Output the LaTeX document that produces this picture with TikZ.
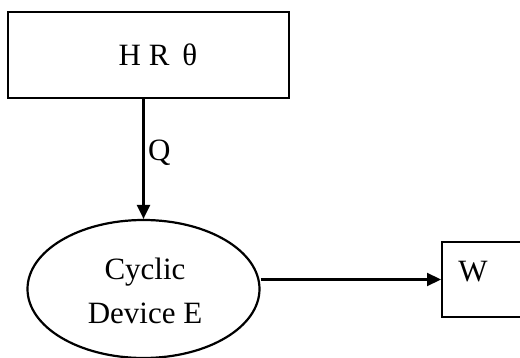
\documentclass[tikz,border=0pt]{standalone}
\usepackage{fontspec}
\setmainfont{Liberation Serif}
\usetikzlibrary{arrows.meta,shapes.geometric}
\begin{document}
\begin{tikzpicture}[x=1pt,y=-1pt,
  line width=2.2pt,
  every node/.style={font=\fontsize{31}{44}\selectfont, inner sep=0pt},
  boxst/.style={draw, rectangle},
  ellst/.style={draw, ellipse},
  arr/.style={-{Triangle[length=14pt,width=13pt]}}]
\useasboundingbox (0,0) rectangle (520,358);
\node[boxst, minimum width=281pt, minimum height=86pt] (hr) at (148.5,55) {};
\node (hrt) at (158,55) {H R\, θ};
\node[ellst, minimum width=232pt, minimum height=138pt] (dev) at (143.5,289) {};
\node[align=center] (devt) at (145,291) {Cyclic\\Device E};
\node[boxst, minimum width=130pt, minimum height=75pt, anchor=west] (w) at (441,279.5) {};
\node (wt) at (473,272) {W};
\draw[arr] (hr.south -| dev.north) -- (dev.north);
\node[anchor=west] (q) at (147,153) {Q};
\draw[arr] (w.west -| dev.east) -- (w.west);
\end{tikzpicture}
\end{document}
